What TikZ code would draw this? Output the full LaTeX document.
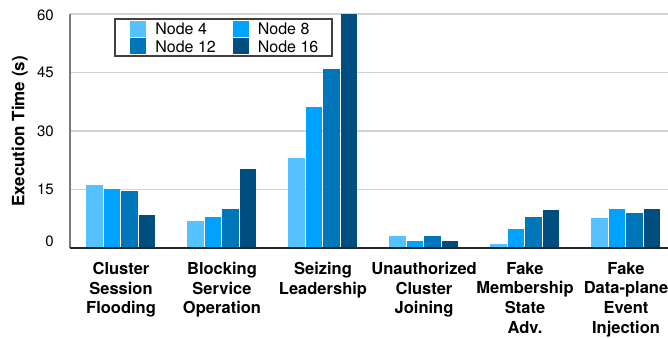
\documentclass[tikz,border=0pt]{standalone}
\usepackage{fontspec}
\setmainfont{TeX Gyre Heros}
\usetikzlibrary{positioning}
\definecolor{nodefour}{HTML}{56C1FF}
\definecolor{nodeeight}{HTML}{00A2FF}
\definecolor{nodetwelve}{HTML}{0076BA}
\definecolor{nodesixteen}{HTML}{004D80}
\definecolor{gridgray}{HTML}{D2D2D2}
\definecolor{axisgray}{HTML}{7A7A7A}

\begin{document}
\begin{tikzpicture}[x=1pt, y=1pt,
      gridline/.style={draw=gridgray, line width=1.3pt},
      ticklabel/.style={anchor=east, inner sep=0pt, font=\fontsize{15}{18}\selectfont},
      catlabel/.style={anchor=north, inner sep=0pt, align=center,
                       font=\fontsize{16.5}{19.7}\selectfont\bfseries},
      swatch/.style={minimum size=16pt, inner sep=0pt},
      legtext/.style={inner sep=0pt, font=\fontsize{16}{19}\selectfont}]
    \useasboundingbox (0,-89) rectangle (668,248);
    \clip (0,-89) rectangle (668,248);

    % grid and axes
    \foreach \t in {15,30,45,60}
      \draw[gridline] (70,3.9*\t) -- (668,3.9*\t);
    \draw[axisgray, line width=1.3pt] (70,0) -- (70,234);

    % bars: one group of four per attack
    \foreach \g/\va/\vb/\vc/\vd in {0/16.2/15.0/14.5/8.5, 1/6.9/7.9/10.0/20.3,
        2/23.1/36.2/45.9/60.0, 3/3.1/1.8/3.1/1.8, 4/1.0/4.9/7.9/9.7,
        5/7.7/10.0/9.0/10.0} {
      \pgfmathsetmacro\gx{86+101*\g}
      \fill[nodefour]    (\gx,0)      rectangle ++(16.9,3.9*\va);
      \fill[nodeeight]   (\gx+17.5,0) rectangle ++(16.9,3.9*\vb);
      \fill[nodetwelve]  (\gx+35,0)   rectangle ++(16.9,3.9*\vc);
      \fill[nodesixteen] (\gx+52.5,0) rectangle ++(16.9,3.9*\vd);
    }
    \draw[black!85, line width=1.5pt] (70,0) -- (668,0);

    % y axis
    \foreach \t/\dy in {0/7,15/0,30/0,45/0,60/-1.5}
      \node[ticklabel] (tick\t) at (54,3.9*\t+\dy) {\t};
    \node[rotate=90, anchor=base, inner sep=0pt, font=\fontsize{17}{19}\selectfont\bfseries]
      (ytitle) at (24.5,116.5) {Execution Time (s)};

    % attack names
    \node[catlabel] (cat1) at (121,-14) {Cluster\\Session\\Flooding};
    \node[catlabel] (cat2) at (222,-14) {Blocking\\Service\\Operation};
    \node[catlabel] (cat3) at (323,-14) {Seizing\\Leadership};
    \node[catlabel] (cat4) at (424,-14) {Unauthorized\\Cluster\\Joining};
    \node[catlabel] (cat5) at (525,-14) {Fake\\Membership\\State\\Adv.};
    \node[catlabel] (cat6) at (626,-14) {Fake\\Data-plane\\Event\\Injection};

    % legend
    \fill[white] (115,229) rectangle (332,192);
    \draw[black!75, line width=1.2pt] (115,229) rectangle (332,192);
    \node[swatch, fill=nodefour]    (sw4)  at (138,219.2) {};
    \node[swatch, fill=nodetwelve]  (sw12) at (138,201.5) {};
    \node[swatch, fill=nodeeight]   (sw8)  at (240.5,219.2) {};
    \node[swatch, fill=nodesixteen] (sw16) at (240.5,201.5) {};
    \node[legtext, right=9pt of sw4]  (lg4)  {Node 4};
    \node[legtext, right=9pt of sw12] (lg12) {Node 12};
    \node[legtext, right=9pt of sw8]  (lg8)  {Node 8};
    \node[legtext, right=9pt of sw16] (lg16) {Node 16};
  \end{tikzpicture}
\end{document}
